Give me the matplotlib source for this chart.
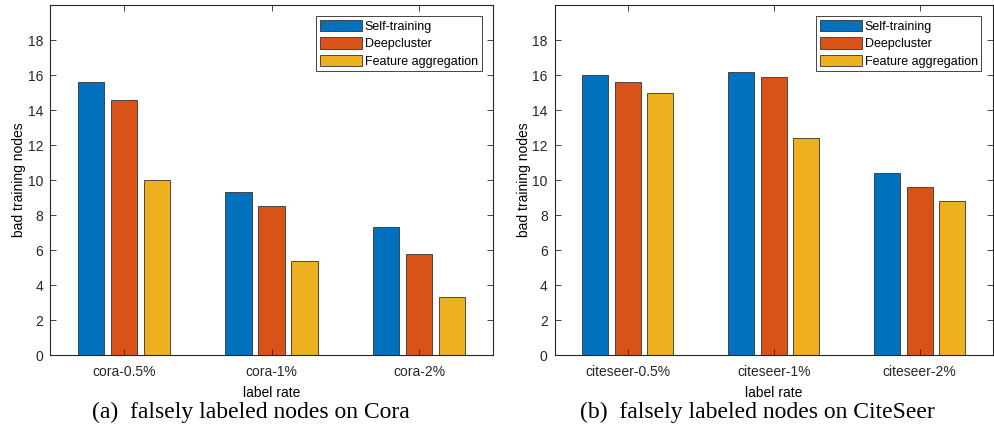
import matplotlib.pyplot as plt
import numpy as np

plt.rcParams.update({
    "font.family": ["Liberation Sans", "DejaVu Sans"],
    "font.size": 10,
    "axes.linewidth": 0.8,
    "axes.edgecolor": "#262626",
    "xtick.color": "#262626",
    "ytick.color": "#262626",
    "xtick.direction": "in",
    "ytick.direction": "in",
})

SERIES = ["Self-training", "Deepcluster", "Feature aggregation"]
COLORS = ["#0072BD", "#D95319", "#EDB120"]

CORA_CATS = ["cora-0.5%", "cora-1%", "cora-2%"]
CORA_SELF = [15.6, 9.3, 7.3]
CORA_DEEP = [14.6, 8.5, 5.8]
CORA_FEAT = [10.0, 5.4, 3.3]

CITE_CATS = ["citeseer-0.5%", "citeseer-1%", "citeseer-2%"]
CITE_SELF = [16.0, 16.2, 10.4]
CITE_DEEP = [15.6, 15.9, 9.6]
CITE_FEAT = [15.0, 12.4, 8.8]

CAPTIONS = ["(a)  falsely labeled nodes on Cora",
            "(b)  falsely labeled nodes on CiteSeer"]


def draw(ax, cats, vals):
    xs = np.arange(1, len(cats) + 1)
    width = 0.178
    step = 0.224
    for k, (v, c, lab) in enumerate(zip(vals, COLORS, SERIES)):
        ax.bar(xs + (k - 1) * step, v, width=width, color=c,
               edgecolor="#333333", linewidth=0.6, label=lab)
    ax.set_xlim(0.5, 3.5)
    ax.set_ylim(0, 20)
    ax.set_yticks(np.arange(0, 19, 2))
    ax.set_xticks(xs)
    ax.set_xticklabels(cats)
    ax.tick_params(top=True, right=True, length=4, width=0.6, labelsize=10)
    ax.tick_params(axis="x", pad=7)
    ax.tick_params(axis="y", pad=5)
    ax.set_xlabel("label rate", fontsize=10, labelpad=5)
    ax.set_ylabel("bad training nodes", fontsize=10, labelpad=1)
    leg = ax.legend(loc="upper right", fontsize=9, fancybox=False,
                    framealpha=1, edgecolor="#262626", borderaxespad=0.9,
                    handlelength=3.4, handleheight=1.0, handletextpad=0.2,
                    labelspacing=0.35, borderpad=0.3)
    leg.get_frame().set_linewidth(0.6)


fig = plt.figure(figsize=(9.94, 4.34), dpi=100)
ax1 = fig.add_axes([0.0503, 0.182, 0.4457, 0.806])
ax2 = fig.add_axes([0.558, 0.182, 0.4407, 0.806])
draw(ax1, CORA_CATS, [CORA_SELF, CORA_DEEP, CORA_FEAT])
draw(ax2, CITE_CATS, [CITE_SELF, CITE_DEEP, CITE_FEAT])
for xc, cap in zip([251 / 994, 757 / 994], CAPTIONS):
    fig.text(xc, 0.05, cap, ha="center", va="center",
             fontsize=17, family=["Liberation Serif", "DejaVu Serif"])
fig.savefig("out.png", dpi=100)
